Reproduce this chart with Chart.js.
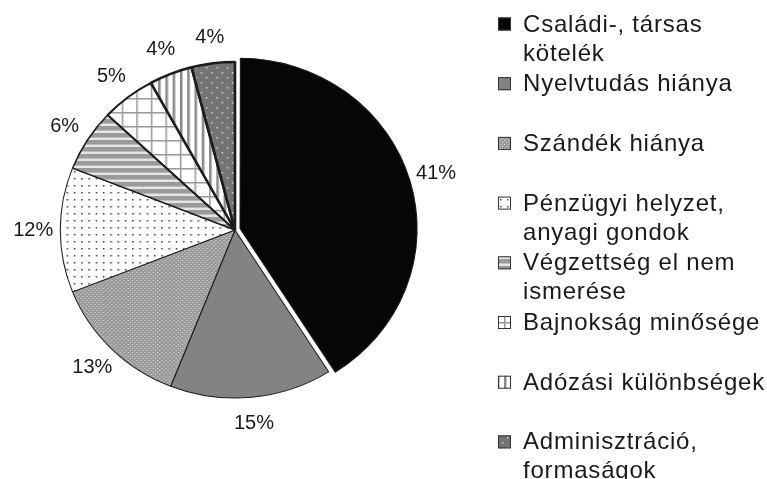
<!DOCTYPE html>
<html>
<head>
<meta charset="utf-8">
<script src="https://cdn.jsdelivr.net/npm/chart.js@4"></script>
<style>
  body { margin: 0; background: #fff; }
  canvas { display: block; }
</style>
</head>
<body>
<canvas id="chart" width="767" height="479"></canvas>
<script>
// legend entries, in the same order as the slices (clockwise from 12 o'clock)
const categories = [
  ['Családi-, társas', 'kötelék'],
  ['Nyelvtudás hiánya'],
  ['Szándék hiánya'],
  ['Pénzügyi helyzet,', 'anyagi gondok'],
  ['Végzettség el nem', 'ismerése'],
  ['Bajnokság minősége'],
  ['Adózási különbségek'],
  ['Adminisztráció,', 'formaságok'],
];
const shares = [41, 15, 13, 12, 6, 5, 4, 4];
const shareLabels = shares.map((v) => v + '%');

// the printed pie is a bit wider than tall
const STRETCH_X = 1.04;

const canvas = document.querySelector('#chart');
const ctx = canvas.getContext('2d');

function makePattern(w, h, draw) {
  const tile = document.createElement('canvas');
  tile.width = w;
  tile.height = h;
  const g = tile.getContext('2d');
  draw(g, w, h);
  return ctx.createPattern(tile, 'repeat');
}

// black & white fills like the old printed chart
const fills = [
  '#060606',
  '#838383',
  makePattern(4, 4, (g) => {
    g.fillStyle = '#9c9c9c';
    g.fillRect(0, 0, 4, 4);
    g.fillStyle = '#d2d2d2';
    g.fillRect(0, 0, 1, 1);
    g.fillRect(2, 2, 1, 1);
  }),
  makePattern(7, 7, (g) => {
    g.fillStyle = '#fff';
    g.fillRect(0, 0, 7, 7);
    g.fillStyle = '#444';
    g.fillRect(3, 3, 1.5, 1.5);
  }),
  makePattern(7, 7, (g) => {
    g.fillStyle = '#9a9a9a';
    g.fillRect(0, 0, 7, 7);
    g.fillStyle = '#e6e6e6';
    g.fillRect(0, 4.5, 7, 2.5);
  }),
  makePattern(14, 14, (g) => {
    g.fillStyle = '#fff';
    g.fillRect(0, 0, 14, 14);
    g.fillStyle = '#9a9a9a';
    g.fillRect(0, 0, 14, 1.5);
    g.fillRect(0, 0, 1.5, 14);
  }),
  makePattern(7, 7, (g) => {
    g.fillStyle = '#fff';
    g.fillRect(0, 0, 7, 7);
    g.fillStyle = '#8a8a8a';
    g.fillRect(0, 0, 2.5, 7);
  }),
  makePattern(10, 10, (g) => {
    g.fillStyle = '#747474';
    g.fillRect(0, 0, 10, 10);
    g.fillStyle = '#d0d0d0';
    g.fillRect(2, 2, 1.5, 1.5);
    g.fillRect(7, 7, 1.5, 1.5);
  }),
];

// how far chart.js really moves an exploded arc (see ArcElement.draw)
function arcShift(arc) {
  const offset = (arc.options.offset || 0) / 4;
  const fix = 1 - Math.sin(Math.min(Math.PI, arc.circumference || 0));
  return offset + offset * fix;
}

const stretchPie = {
  id: 'stretchPie',
  beforeDatasetsDraw(chart) {
    const cx = (chart.chartArea.left + chart.chartArea.right) / 2;
    chart.ctx.save();
    chart.ctx.translate(cx, 0);
    chart.ctx.scale(STRETCH_X, 1);
    chart.ctx.translate(-cx, 0);
  },
  afterDatasetsDraw(chart) {
    chart.ctx.restore();
  },
};

// percentage labels just outside each slice
const pctLabels = {
  id: 'pctLabels',
  afterDatasetsDraw(chart) {
    const c = chart.ctx;
    const meta = chart.getDatasetMeta(0);
    c.save();
    c.font = '20px "Liberation Sans", Arial, sans-serif';
    c.fillStyle = '#1a1a1a';
    c.textAlign = 'center';
    c.textBaseline = 'middle';
    meta.data.forEach((arc, i) => {
      const { x, y, startAngle, endAngle, outerRadius } = arc.getProps(
        ['x', 'y', 'startAngle', 'endAngle', 'outerRadius'],
        true,
      );
      const mid = (startAngle + endAngle) / 2;
      const d = outerRadius + arcShift(arc) + 26;
      c.fillText(
        shareLabels[i],
        x + Math.cos(mid) * d * STRETCH_X,
        y + Math.sin(mid) * d,
      );
    });
    c.restore();
  },
};

// legend on the right: every entry gets the same slot height
const sideLegend = {
  id: 'sideLegend',
  afterDraw(chart) {
    const c = chart.ctx;
    const bg = chart.data.datasets[0].backgroundColor;
    c.save();
    c.font = '24px "Liberation Sans", Arial, sans-serif';
    c.letterSpacing = '0.8px';
    c.textBaseline = 'alphabetic';
    c.textAlign = 'left';
    chart.data.labels.forEach((lines, i) => {
      const base = 31.5 + i * 59.7;
      c.fillStyle = bg[i];
      c.fillRect(498, base - 14, 13, 13);
      c.strokeStyle = '#333';
      c.lineWidth = 1;
      c.strokeRect(498.5, base - 13.5, 12, 12);
      c.fillStyle = '#1a1a1a';
      lines.forEach((line, j) => {
        c.fillText(line, 523, base + j * 29);
      });
    });
    c.restore();
  },
};

new Chart(canvas, {
  type: 'pie',
  data: {
    labels: categories,
    datasets: [
      {
        data: shares,
        backgroundColor: fills,
        borderColor: '#1c1c1c',
        borderWidth: [1, 1, 1, 1, 1.5, 2, 2.5, 2.5],
        offset: [20, 0, 0, 0, 0, 0, 0, 0],
        radius: 168,
      },
    ],
  },
  options: {
    responsive: false,
    animation: false,
    layout: { padding: { left: 45, right: 342, top: 40, bottom: 59 } },
    plugins: {
      legend: { display: false },
      tooltip: { enabled: false },
    },
  },
  plugins: [stretchPie, pctLabels, sideLegend],
});
</script>
</body>
</html>
